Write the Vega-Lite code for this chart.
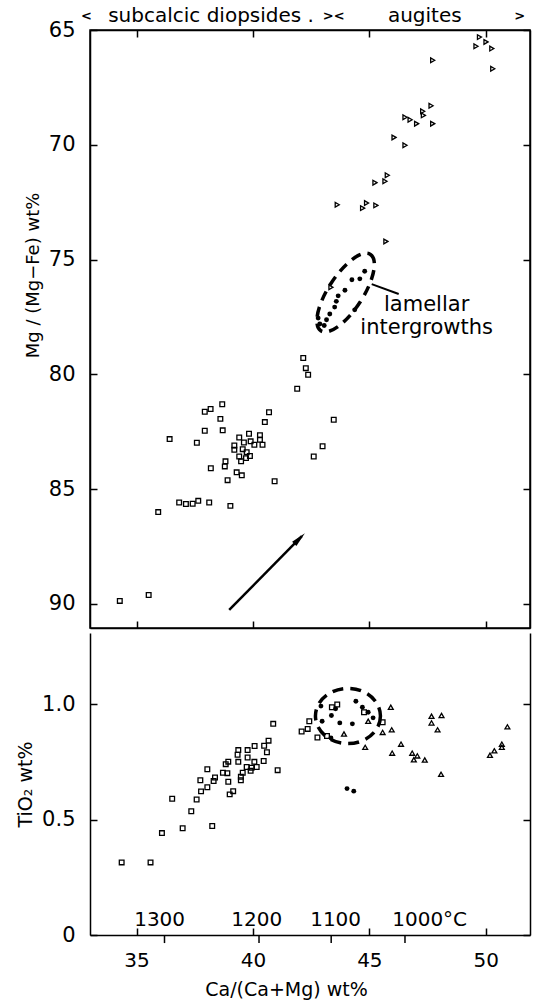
{
  "$schema": "https://vega.github.io/schema/vega-lite/v6.json",
  "padding": {"left": 16, "top": 5, "right": 5, "bottom": 5},
  "spacing": 3,
  "config": {
    "font": "DejaVu Sans",
    "view": {"stroke": "black", "strokeWidth": 1.5},
    "axis": {
      "grid": false, "domainColor": "black", "domainWidth": 1.5, "tickColor": "black", "tickWidth": 1.5,
      "tickSize": -7, "labelPadding": 22, "labelFont": "DejaVu Sans", "labelFontSize": 21, "labelColor": "black",
      "titleFont": "DejaVu Sans", "titleFontSize": 19, "titleFontWeight": "normal", "titleColor": "black"
    }
  },
  "datasets": {
    "top": [
      {"ca":42.16,"mg":79.29,"group":"diopside"},{"ca":42.27,"mg":79.73,"group":"diopside"},{"ca":42.37,"mg":80.02,"group":"diopside"},{"ca":41.9,"mg":80.63,"group":"diopside"},
      {"ca":38.68,"mg":81.3,"group":"diopside"},{"ca":38.18,"mg":81.51,"group":"diopside"},{"ca":37.93,"mg":81.63,"group":"diopside"},{"ca":40.69,"mg":81.65,"group":"diopside"},
      {"ca":38.6,"mg":81.94,"group":"diopside"},{"ca":40.51,"mg":82.08,"group":"diopside"},{"ca":43.47,"mg":81.98,"group":"diopside"},{"ca":37.93,"mg":82.46,"group":"diopside"},
      {"ca":38.7,"mg":82.44,"group":"diopside"},{"ca":36.42,"mg":82.82,"group":"diopside"},{"ca":37.59,"mg":82.98,"group":"diopside"},{"ca":39.41,"mg":82.75,"group":"diopside"},
      {"ca":39.83,"mg":82.59,"group":"diopside"},{"ca":39.61,"mg":82.97,"group":"diopside"},{"ca":39.9,"mg":82.92,"group":"diopside"},{"ca":40.3,"mg":82.65,"group":"diopside"},
      {"ca":40.3,"mg":82.85,"group":"diopside"},{"ca":40.06,"mg":83.07,"group":"diopside"},{"ca":40.41,"mg":83.07,"group":"diopside"},{"ca":39.2,"mg":83.1,"group":"diopside"},
      {"ca":39.2,"mg":83.29,"group":"diopside"},{"ca":39.56,"mg":83.26,"group":"diopside"},{"ca":39.73,"mg":83.39,"group":"diopside"},{"ca":39.41,"mg":83.58,"group":"diopside"},
      {"ca":39.7,"mg":83.65,"group":"diopside"},{"ca":39.87,"mg":83.56,"group":"diopside"},{"ca":39.49,"mg":83.79,"group":"diopside"},{"ca":42.99,"mg":83.13,"group":"diopside"},
      {"ca":42.61,"mg":83.58,"group":"diopside"},{"ca":38.82,"mg":83.79,"group":"diopside"},{"ca":38.79,"mg":84.01,"group":"diopside"},{"ca":38.19,"mg":84.09,"group":"diopside"},
      {"ca":39.3,"mg":84.27,"group":"diopside"},{"ca":39.52,"mg":84.4,"group":"diopside"},{"ca":38.91,"mg":84.61,"group":"diopside"},{"ca":40.93,"mg":84.66,"group":"diopside"},
      {"ca":36.83,"mg":85.58,"group":"diopside"},{"ca":37.12,"mg":85.65,"group":"diopside"},{"ca":37.41,"mg":85.64,"group":"diopside"},{"ca":37.65,"mg":85.51,"group":"diopside"},
      {"ca":38.12,"mg":85.58,"group":"diopside"},{"ca":39.03,"mg":85.73,"group":"diopside"},{"ca":35.93,"mg":86.0,"group":"diopside"},{"ca":34.28,"mg":89.87,"group":"diopside"},
      {"ca":35.52,"mg":89.61,"group":"diopside"},
      {"ca":49.73,"mg":65.31,"group":"augite"},{"ca":50.01,"mg":65.52,"group":"augite"},{"ca":49.58,"mg":65.71,"group":"augite"},{"ca":50.26,"mg":65.81,"group":"augite"},
      {"ca":47.72,"mg":66.32,"group":"augite"},{"ca":50.3,"mg":66.69,"group":"augite"},{"ca":47.65,"mg":68.3,"group":"augite"},{"ca":47.29,"mg":68.54,"group":"augite"},
      {"ca":47.32,"mg":68.72,"group":"augite"},{"ca":46.53,"mg":68.8,"group":"augite"},{"ca":46.75,"mg":68.91,"group":"augite"},{"ca":47.03,"mg":69.08,"group":"augite"},
      {"ca":47.72,"mg":69.08,"group":"augite"},{"ca":46.06,"mg":69.68,"group":"augite"},{"ca":46.53,"mg":70.02,"group":"augite"},{"ca":45.77,"mg":71.33,"group":"augite"},
      {"ca":45.24,"mg":71.65,"group":"augite"},{"ca":45.67,"mg":71.59,"group":"augite"},{"ca":43.62,"mg":72.61,"group":"augite"},{"ca":44.88,"mg":72.54,"group":"augite"},
      {"ca":44.71,"mg":72.76,"group":"augite"},{"ca":45.28,"mg":72.64,"group":"augite"},{"ca":45.71,"mg":74.21,"group":"augite"},{"ca":43.35,"mg":76.21,"group":"augite"},
      {"ca":44.8,"mg":75.51,"group":"lamellar"},{"ca":44.25,"mg":75.88,"group":"lamellar"},{"ca":44.59,"mg":75.84,"group":"lamellar"},{"ca":43.95,"mg":76.34,"group":"lamellar"},
      {"ca":43.66,"mg":76.58,"group":"lamellar"},{"ca":43.58,"mg":76.82,"group":"lamellar"},{"ca":43.51,"mg":77.07,"group":"lamellar"},{"ca":44.37,"mg":77.19,"group":"lamellar"},
      {"ca":43.3,"mg":77.37,"group":"lamellar"},{"ca":42.8,"mg":77.55,"group":"lamellar"},{"ca":43.16,"mg":77.62,"group":"lamellar"},{"ca":42.87,"mg":77.81,"group":"lamellar"},
      {"ca":43.06,"mg":77.87,"group":"lamellar"}
    ],
    "bottom": [
      {"ca":40.87,"ti":0.916,"group":"diopside"},{"ca":40.67,"ti":0.843,"group":"diopside"},{"ca":40.48,"ti":0.821,"group":"diopside"},{"ca":40.6,"ti":0.793,"group":"diopside"},
      {"ca":40.07,"ti":0.82,"group":"diopside"},{"ca":39.77,"ti":0.802,"group":"diopside"},{"ca":39.37,"ti":0.802,"group":"diopside"},{"ca":39.34,"ti":0.782,"group":"diopside"},
      {"ca":39.77,"ti":0.77,"group":"diopside"},{"ca":40.46,"ti":0.755,"group":"diopside"},{"ca":40.06,"ti":0.751,"group":"diopside"},{"ca":39.37,"ti":0.751,"group":"diopside"},
      {"ca":38.94,"ti":0.752,"group":"diopside"},{"ca":38.83,"ti":0.741,"group":"diopside"},{"ca":39.73,"ti":0.729,"group":"diopside"},{"ca":39.94,"ti":0.726,"group":"diopside"},
      {"ca":40.16,"ti":0.729,"group":"diopside"},{"ca":39.9,"ti":0.712,"group":"diopside"},{"ca":39.56,"ti":0.704,"group":"diopside"},{"ca":38.04,"ti":0.719,"group":"diopside"},
      {"ca":38.71,"ti":0.704,"group":"diopside"},{"ca":38.9,"ti":0.702,"group":"diopside"},{"ca":38.37,"ti":0.683,"group":"diopside"},{"ca":39.48,"ti":0.686,"group":"diopside"},
      {"ca":39.48,"ti":0.671,"group":"diopside"},{"ca":38.31,"ti":0.668,"group":"diopside"},{"ca":38.94,"ti":0.665,"group":"diopside"},{"ca":37.74,"ti":0.671,"group":"diopside"},
      {"ca":38.04,"ti":0.641,"group":"diopside"},{"ca":37.77,"ti":0.623,"group":"diopside"},{"ca":39.15,"ti":0.624,"group":"diopside"},{"ca":39.0,"ti":0.61,"group":"diopside"},
      {"ca":36.53,"ti":0.591,"group":"diopside"},{"ca":37.58,"ti":0.588,"group":"diopside"},{"ca":37.35,"ti":0.537,"group":"diopside"},{"ca":36.98,"ti":0.463,"group":"diopside"},
      {"ca":38.25,"ti":0.473,"group":"diopside"},{"ca":36.09,"ti":0.442,"group":"diopside"},{"ca":34.36,"ti":0.315,"group":"diopside"},{"ca":35.6,"ti":0.315,"group":"diopside"},
      {"ca":41.06,"ti":0.715,"group":"diopside"},{"ca":42.09,"ti":0.883,"group":"diopside"},{"ca":42.35,"ti":0.894,"group":"diopside"},{"ca":42.42,"ti":0.927,"group":"diopside"},
      {"ca":42.77,"ti":0.857,"group":"diopside"},{"ca":43.18,"ti":0.863,"group":"diopside"},{"ca":43.39,"ti":0.988,"group":"diopside"},{"ca":43.62,"ti":1.0,"group":"diopside"},
      {"ca":44.77,"ti":0.966,"group":"diopside"},{"ca":45.57,"ti":0.923,"group":"diopside"},
      {"ca":42.92,"ti":0.993,"group":"lamellar"},{"ca":43.55,"ti":0.981,"group":"lamellar"},{"ca":42.97,"ti":0.927,"group":"lamellar"},{"ca":43.37,"ti":0.952,"group":"lamellar"},
      {"ca":43.73,"ti":0.92,"group":"lamellar"},{"ca":44.27,"ti":0.916,"group":"lamellar"},{"ca":44.42,"ti":1.014,"group":"lamellar"},{"ca":44.7,"ti":0.988,"group":"lamellar"},
      {"ca":44.95,"ti":0.966,"group":"lamellar"},{"ca":43.35,"ti":0.855,"group":"lamellar"},{"ca":45.16,"ti":0.942,"group":"lamellar"},{"ca":44.04,"ti":0.635,"group":"lamellar"},
      {"ca":44.33,"ti":0.624,"group":"lamellar"},
      {"ca":43.91,"ti":0.872,"group":"augite"},{"ca":44.95,"ti":0.927,"group":"augite"},{"ca":45.92,"ti":0.988,"group":"augite"},{"ca":45.57,"ti":0.879,"group":"augite"},
      {"ca":45.96,"ti":0.89,"group":"augite"},{"ca":44.82,"ti":0.814,"group":"augite"},{"ca":46.36,"ti":0.828,"group":"augite"},{"ca":45.98,"ti":0.789,"group":"augite"},
      {"ca":46.84,"ti":0.789,"group":"augite"},{"ca":47.06,"ti":0.777,"group":"augite"},{"ca":46.91,"ti":0.76,"group":"augite"},{"ca":47.38,"ti":0.759,"group":"augite"},
      {"ca":47.67,"ti":0.949,"group":"augite"},{"ca":48.1,"ti":0.952,"group":"augite"},{"ca":47.67,"ti":0.92,"group":"augite"},{"ca":47.93,"ti":0.89,"group":"augite"},
      {"ca":48.08,"ti":0.697,"group":"augite"},{"ca":50.93,"ti":0.903,"group":"augite"},{"ca":50.69,"ti":0.828,"group":"augite"},{"ca":50.69,"ti":0.814,"group":"augite"},
      {"ca":50.37,"ti":0.799,"group":"augite"},{"ca":50.18,"ti":0.78,"group":"augite"}
    ]
  },
  "vconcat": [
    {
      "width": 440,
      "height": 598,
      "resolve": {"axis": {"x": "independent", "y": "independent"}},
      "layer": [
        {
          "data": {"name": "top"},
          "transform": [{"filter": "datum.group == 'diopside'"}],
          "mark": {"type": "point", "shape": "square", "filled": false, "size": 22, "strokeWidth": 1.3, "color": "black", "opacity": 1},
          "encoding": {
            "x": {"field": "ca", "type": "quantitative", "scale": {"domain": [33, 51.9], "nice": false, "zero": false},
                  "axis": {"orient": "bottom", "values": [35, 40, 45, 50], "labels": false, "title": null}},
            "y": {"field": "mg", "type": "quantitative", "scale": {"domain": [65, 91.05], "reverse": true, "nice": false, "zero": false},
                  "axis": {"orient": "left", "values": [65, 70, 75, 80, 85, 90], "title": "Mg / (Mg−Fe) wt%", "titleFontSize": 18, "titlePadding": 6, "titleY": 245}}
          }
        },
        {
          "data": {"name": "top"},
          "transform": [{"filter": "datum.group == 'augite'"}],
          "mark": {"type": "point", "shape": "triangle-right", "filled": false, "size": 22, "strokeWidth": 1.3, "color": "black", "opacity": 1},
          "encoding": {
            "x": {"field": "ca", "type": "quantitative", "axis": {"orient": "top", "values": [35, 40, 45, 50], "labels": false, "title": null}},
            "y": {"field": "mg", "type": "quantitative", "axis": {"orient": "right", "values": [65, 70, 75, 80, 85, 90], "labels": false, "title": null}}
          }
        },
        {
          "data": {"name": "top"},
          "transform": [{"filter": "datum.group == 'lamellar'"}],
          "mark": {"type": "point", "shape": "circle", "filled": true, "size": 24, "color": "black", "opacity": 1},
          "encoding": {
            "x": {"field": "ca", "type": "quantitative", "axis": null},
            "y": {"field": "mg", "type": "quantitative", "axis": null}
          }
        },
        {
          "data": {"values": [{"ca": 43.98, "mg": 76.44}]},
          "mark": {"type": "point", "shape": "M 1 0 C 1 0.21 0.552 0.38 0 0.38 C -0.552 0.38 -1 0.21 -1 0 C -1 -0.21 -0.552 -0.38 0 -0.38 C 0.552 -0.38 1 -0.21 1 0 Z",
                   "angle": -57, "size": 8300, "filled": false, "stroke": "black", "strokeWidth": 3.5, "strokeDash": [10, 7], "opacity": 1},
          "encoding": {
            "x": {"field": "ca", "type": "quantitative", "axis": null},
            "y": {"field": "mg", "type": "quantitative", "axis": null}
          }
        },
        {
          "data": {"values": [{"ca": 45.1, "mg": 76.07, "ca2": 46.26, "mg2": 76.5}]},
          "mark": {"type": "rule", "color": "black", "strokeWidth": 2},
          "encoding": {
            "x": {"field": "ca", "type": "quantitative", "axis": null},
            "y": {"field": "mg", "type": "quantitative", "axis": null},
            "x2": {"field": "ca2"},
            "y2": {"field": "mg2"}
          }
        },
        {
          "data": {"values": [{"note": "lamellar", "ca": 47.46, "mg": 76.98}, {"note": "intergrowths", "ca": 47.46, "mg": 77.98}]},
          "mark": {"type": "text", "fontSize": 21, "baseline": "middle", "align": "center", "color": "black"},
          "encoding": {
            "x": {"field": "ca", "type": "quantitative", "axis": null},
            "y": {"field": "mg", "type": "quantitative", "axis": null},
            "text": {"field": "note"}
          }
        },
        {
          "data": {"values": [{"note": "subcalcic diopsides .", "ca": 38.2, "mg": 64.39}, {"note": "augites", "ca": 47.38, "mg": 64.39}]},
          "mark": {"type": "text", "fontSize": 20, "baseline": "middle", "align": "center", "color": "black"},
          "encoding": {
            "x": {"field": "ca", "type": "quantitative", "axis": null},
            "y": {"field": "mg", "type": "quantitative", "axis": null},
            "text": {"field": "note"}
          }
        },
        {
          "data": {"values": [{"note": "<", "ca": 32.85, "mg": 64.39}, {"note": "><", "ca": 43.47, "mg": 64.39}, {"note": ">", "ca": 51.46, "mg": 64.39}]},
          "mark": {"type": "text", "fontSize": 13, "fontWeight": "bold", "baseline": "middle", "align": "center", "color": "black"},
          "encoding": {
            "x": {"field": "ca", "type": "quantitative", "axis": null},
            "y": {"field": "mg", "type": "quantitative", "axis": null},
            "text": {"field": "note"}
          }
        },
        {
          "data": {"values": [{"ca": 38.98, "mg": 90.26, "ca2": 42.1, "mg2": 87.05}]},
          "mark": {"type": "rule", "color": "black", "strokeWidth": 2.5},
          "encoding": {
            "x": {"field": "ca", "type": "quantitative", "axis": null},
            "y": {"field": "mg", "type": "quantitative", "axis": null},
            "x2": {"field": "ca2"},
            "y2": {"field": "mg2"}
          }
        },
        {
          "data": {"values": [{"ca": 42.23, "mg": 86.92}]},
          "mark": {"type": "point", "shape": "M 0 0 L 0.4 2 L -0.4 2 Z", "angle": 45, "size": 225, "filled": true, "color": "black", "opacity": 1},
          "encoding": {
            "x": {"field": "ca", "type": "quantitative", "axis": null},
            "y": {"field": "mg", "type": "quantitative", "axis": null}
          }
        }
      ]
    },
    {
      "width": 440,
      "height": 302,
      "view": {"stroke": null},
      "resolve": {"axis": {"x": "independent", "y": "independent"}},
      "layer": [
        {
          "data": {"name": "bottom"},
          "transform": [{"filter": "datum.group == 'diopside'"}],
          "mark": {"type": "point", "shape": "square", "filled": false, "size": 22, "strokeWidth": 1.3, "color": "black", "opacity": 1},
          "encoding": {
            "x": {"field": "ca", "type": "quantitative", "scale": {"domain": [33, 51.9], "nice": false, "zero": false},
                  "axis": {"orient": "bottom", "values": [35, 40, 45, 50], "labelFontSize": 20, "title": "Ca/(Ca+Mg) wt%", "titlePadding": 10, "titleX": 196}},
            "y": {"field": "ti", "type": "quantitative", "scale": {"domain": [0, 1.31], "nice": false, "zero": false},
                  "axis": {"orient": "left", "values": [0, 0.5, 1.0], "labelExpr": "datum.value == 0 ? '0' : format(datum.value, '.1f')", "title": "TiO₂ wt%", "titlePadding": 6}}
          }
        },
        {
          "data": {"name": "bottom"},
          "transform": [{"filter": "datum.group == 'augite'"}],
          "mark": {"type": "point", "shape": "triangle-up", "filled": false, "size": 24, "strokeWidth": 1.3, "color": "black", "opacity": 1},
          "encoding": {
            "x": {"field": "ca", "type": "quantitative", "axis": null},
            "y": {"field": "ti", "type": "quantitative", "axis": {"orient": "right", "values": [0, 0.5, 1.0], "labels": false, "title": null}}
          }
        },
        {
          "data": {"name": "bottom"},
          "transform": [{"filter": "datum.group == 'lamellar'"}],
          "mark": {"type": "point", "shape": "circle", "filled": true, "size": 24, "color": "black", "opacity": 1},
          "encoding": {
            "x": {"field": "ca", "type": "quantitative", "axis": null},
            "y": {"field": "ti", "type": "quantitative", "axis": null}
          }
        },
        {
          "data": {"values": [{"ca": 44.08, "ti": 0.95}]},
          "mark": {"type": "point", "shape": "M 1 0 C 1 0.469 0.552 0.85 0 0.85 C -0.552 0.85 -1 0.469 -1 0 C -1 -0.469 -0.552 -0.85 0 -0.85 C 0.552 -0.85 1 -0.469 1 0 Z",
                   "size": 4225, "filled": false, "stroke": "black", "strokeWidth": 3.5, "strokeDash": [11, 7], "opacity": 1},
          "encoding": {
            "x": {"field": "ca", "type": "quantitative", "axis": null},
            "y": {"field": "ti", "type": "quantitative", "axis": null}
          }
        },
        {
          "data": {"values": [{"temp": "1300", "labelCa": 35.99, "tickCa": 36.2, "ti": 0.066}, {"temp": "1200", "labelCa": 40.16, "tickCa": 40.26, "ti": 0.066}, {"temp": "1100", "labelCa": 43.55, "tickCa": 43.36, "ti": 0.066}, {"temp": "1000°C", "labelCa": 47.59, "tickCa": 46.53, "ti": 0.066}]},
          "layer": [
            {
              "mark": {"type": "text", "fontSize": 20, "baseline": "middle", "align": "center", "color": "black"},
              "encoding": {
                "x": {"field": "labelCa", "type": "quantitative", "axis": null},
                "y": {"field": "ti", "type": "quantitative", "axis": null},
                "text": {"field": "temp"}
              }
            },
            {
              "mark": {"type": "rule", "color": "black", "strokeWidth": 1.5},
              "encoding": {
                "x": {"field": "tickCa", "type": "quantitative", "axis": null},
                "y": {"datum": 0, "type": "quantitative", "axis": null},
                "y2": {"datum": -0.035}
              }
            }
          ]
        }
      ]
    }
  ]
}
